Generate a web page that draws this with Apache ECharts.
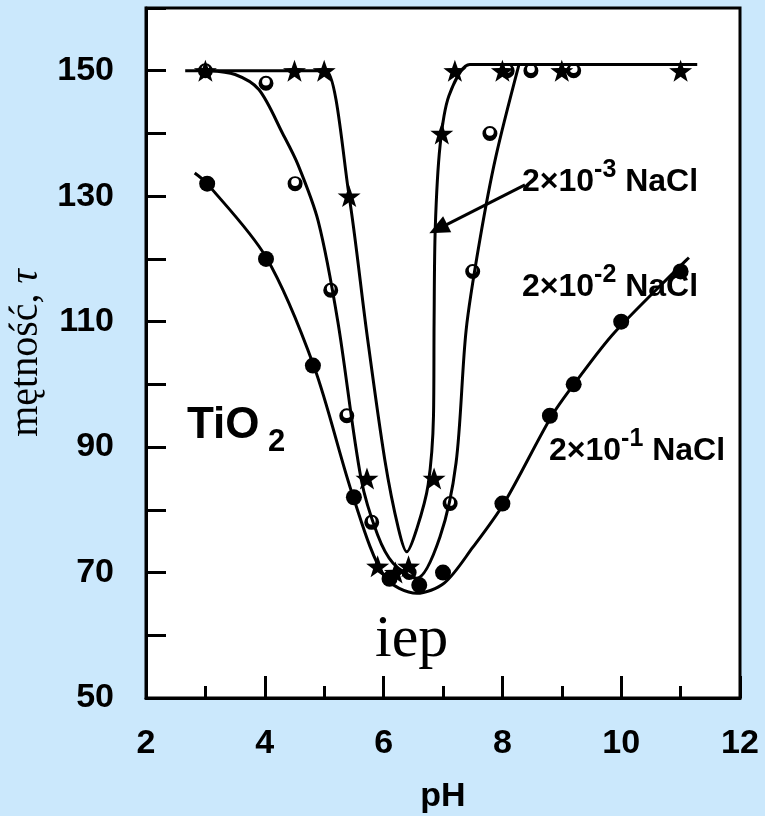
<!DOCTYPE html>
<html lang="pl">
<head>
    <meta charset="UTF-8">
    <title>TiO2 - mętność vs pH</title>
    <style>
        * {
            margin: 0;
            padding: 0;
        }

        body {
            background-color: #cbe8fc;
        }

        #chart {
            width: 765px;
            height: 816px;
        }
    </style>
</head>
<body>
<div id="chart"></div>
<script src="https://cdn.jsdelivr.net/npm/echarts@6/dist/echarts.min.js"></script>
<script>
    // measured points: [pH, turbidity]
    var pts3 = [[3, 150], [4.5, 150], [5, 150], [5.42, 130], [5.72, 85], [5.9, 71], [6.2, 70], [6.42, 71],
        [6.85, 85], [6.98, 140], [7.2, 150], [8, 150], [9, 150], [11, 150]];
    var pts2 = [[3, 150], [4.02, 148], [4.51, 132], [5.11, 115], [5.38, 95], [5.8, 78], [6.43, 70], [7.12, 81],
        [7.5, 118], [7.79, 140], [8.08, 150], [8.48, 150], [9.2, 150]];
    var pts1 = [[3.03, 132], [4.02, 120], [4.81, 103], [5.5, 82], [6.1, 69], [6.6, 68], [7, 70], [8, 81],
        [8.8, 95], [9.2, 100], [10, 110], [11, 118]];

    // fitted curves
    var fit3 = [[2.66, 150], [4.8, 150], [5.03, 150], [5.42, 130], [5.72, 108], [6.02, 88], [6.25, 77], [6.39, 73.3],
        [6.56, 77], [6.75, 84], [6.84, 95], [6.85, 110], [6.87, 125], [6.95, 138], [7.1, 146], [7.45, 151],
        [7.8, 151], [11.28, 151]];
    var fit2 = [[3.05, 150], [3.5, 149.4], [3.9, 147], [4.3, 140], [4.56, 135], [4.9, 126], [5.23, 110],
        [5.62, 85], [5.9, 76], [6.16, 71.5], [6.56, 69.1], [6.95, 75.7], [7.22, 87.5], [7.39, 108.7],
        [7.62, 123], [7.89, 136.3], [8.28, 151]];
    var fit1 = [[2.82, 133.7], [3.03, 132], [4.02, 120.3], [4.83, 102.8], [5.49, 82], [6.02, 69.3],
        [6.56, 66.7], [7.02, 68.3], [7.5, 74], [8.03, 81.1], [8.82, 94.8], [9.22, 100.2], [9.88, 108.2],
        [11.14, 120.2]];

    var yLabels = [50, 70, 90, 110, 130, 150];
    var xLabels = [2, 4, 6, 8, 10, 12];

    var arrow = [[8.38, 131.8], [6.92, 124.8]];

    var star = 'path://M10,0 L12.35,6.76 L19.51,6.91 L13.8,11.24 L15.88,18.09 L10,14 L4.12,18.09 L6.2,11.24 L0.49,6.91 L7.65,6.76 Z';
    var halfRing = 'path://M0,10 A10,10 0 1,1 20,10 A10,10 0 1,1 0,10 Z M4.8,7.8 A5.2,5.2 0 1,0 15.2,7.8 A5.2,5.2 0 1,0 4.8,7.8 Z';

    var chart = echarts.init(document.getElementById('chart'));

    function curve(data, extra) {
        var s = {
            type: 'line',
            data: data,
            smooth: 0.3,
            showSymbol: false,
            silent: true,
            lineStyle: {color: '#000', width: 3}
        };
        if (extra) s.markLine = extra;
        return s;
    }

    function dots(data, symbol, size) {
        return {
            type: 'scatter',
            data: data,
            symbol: symbol,
            symbolSize: size,
            symbolKeepAspect: true,
            itemStyle: {color: '#000', opacity: 1},
            z: 5
        };
    }

    function naclLabel(left, top, exp) {
        return {
            type: 'text',
            left: left,
            top: top,
            style: {
                text: '{b|2×10}{s|-' + exp + '}{b| NaCl}',
                rich: {
                    b: {font: 'bold 32px "Liberation Sans", Arial', fill: '#000', verticalAlign: 'bottom', lineHeight: 40},
                    s: {font: 'bold 25px "Liberation Sans", Arial', fill: '#000', verticalAlign: 'top', lineHeight: 22}
                }
            }
        };
    }

    chart.setOption({
        animation: false,
        backgroundColor: '#cbe8fc',
        grid: {
            left: 146,
            right: 25,
            top: 8,
            bottom: 118,
            outerBoundsMode: 'none',
            show: true,
            backgroundColor: '#fff',
            borderColor: '#000',
            borderWidth: 3
        },
        xAxis: {
            type: 'value',
            min: 2,
            max: 12,
            interval: 2,
            name: 'pH',
            nameLocation: 'middle',
            nameGap: 82,
            nameTextStyle: {fontFamily: 'Liberation Sans', fontWeight: 'bold', fontSize: 34, color: '#000'},
            axisLine: {lineStyle: {color: '#000', width: 3}},
            axisTick: {inside: true, length: 22, lineStyle: {color: '#000', width: 3}},
            minorTick: {show: true, splitNumber: 2, length: 12, lineStyle: {color: '#000', width: 3}},
            splitLine: {show: false},
            axisLabel: {
                margin: 29,
                fontFamily: 'Liberation Sans',
                fontWeight: 'bold',
                fontSize: 34,
                color: '#000',
                formatter: function (v) {
                    return xLabels.indexOf(v) >= 0 ? String(v) : '';
                }
            }
        },
        yAxis: {
            type: 'value',
            min: 50,
            max: 160,
            interval: 10,
            name: '{n|mętność, }{t|τ}',
            nameLocation: 'middle',
            nameGap: 96,
            nameRotate: 90,
            nameTextStyle: {
                rich: {
                    n: {fontFamily: 'Liberation Serif', fontSize: 40, color: '#000'},
                    t: {fontFamily: 'Liberation Serif', fontStyle: 'italic', fontSize: 40, color: '#000'}
                }
            },
            axisLine: {lineStyle: {color: '#000', width: 3}},
            axisTick: {inside: true, length: 20, lineStyle: {color: '#000', width: 3}},
            splitLine: {show: false},
            axisLabel: {
                margin: 32,
                padding: [6, 0, 0, 0],
                fontFamily: 'Liberation Sans',
                fontWeight: 'bold',
                fontSize: 34,
                color: '#000',
                formatter: function (v) {
                    return yLabels.indexOf(v) >= 0 ? String(v) : '';
                }
            }
        },
        series: [
            curve(fit3, {
                silent: true,
                symbol: ['none', 'triangle'],
                symbolSize: [18, 20],
                label: {show: false},
                lineStyle: {color: '#000', width: 3, type: 'solid'},
                data: [[{coord: arrow[0]}, {coord: arrow[1]}]]
            }),
            curve(fit2),
            curve(fit1),
            dots(pts1, 'circle', 16),
            dots(pts2, halfRing, 15),
            dots(pts3, star, 23)
        ],
        graphic: [
            naclLabel(522, 158, 3),
            naclLabel(522, 263, 2),
            naclLabel(549, 427, 1),
            {
                type: 'text',
                left: 187,
                top: 404,
                style: {text: 'TiO', font: 'bold 44px "Liberation Sans", Arial', fill: '#000'}
            },
            {
                type: 'text',
                left: 268,
                top: 427,
                style: {text: '2', font: 'bold 31px "Liberation Sans", Arial', fill: '#000'}
            },
            {
                type: 'text',
                left: 375,
                top: 610,
                style: {text: 'iep', font: '60px "Liberation Serif", serif', fill: '#000'}
            }
        ]
    });
</script>
</body>
</html>
